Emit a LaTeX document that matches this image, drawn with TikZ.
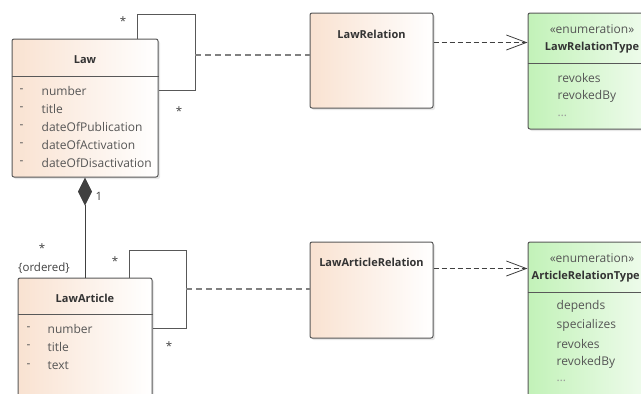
\documentclass[tikz,border=0pt]{standalone}
\usepackage{fontspec}
\setmainfont{Open Sans}
\usetikzlibrary{arrows.meta,shadows}
\definecolor{lawpeach}{RGB}{249,226,209}
\definecolor{lawgreen}{RGB}{194,242,184}
\definecolor{lawline}{RGB}{88,88,88}
\definecolor{lawtext}{RGB}{85,85,85}
\tikzset{
  umlclass/.style={draw=lawline, line width=1pt, rounded corners=2pt,
    left color=lawpeach, right color=white,
    drop shadow={shadow xshift=2pt, shadow yshift=-2pt, opacity=0.18}},
  umlenum/.style={umlclass, left color=lawgreen, right color=lawgreen!20},
  compline/.style={draw=lawline, line width=0.8pt},
  classname/.style={font=\bfseries\fontsize{11}{13}\selectfont, text=black!80, inner sep=0pt},
  attr/.style={font=\fontsize{12}{14}\selectfont, text=lawtext, anchor=west, inner sep=0pt},
  mult/.style={font=\fontsize{11.5}{13}\selectfont, text=black!75, inner sep=0pt},
  loopline/.style={draw=lawline, line width=0.8pt},
  assocdash/.style={draw=black!50, line width=1.2pt, dash pattern=on 6pt off 4pt},
  depend/.style={draw=black!75, line width=0.8pt, dash pattern=on 5pt off 3pt,
    -{Straight Barb[length=20pt,width=15pt]}},
  compose/.style={draw=black!75, line width=0.8pt, {Diamond[length=28pt,width=14pt]}-}
}

\begin{document}
\begin{tikzpicture}[x=1pt,y=-1pt]
\clip (0,0) rectangle (641,394);
\fill[white] (0,0) rectangle (641,394);

% classes
\node[umlclass, minimum width=146pt, minimum height=138pt] (law) at (85,108) {};
\node[umlclass, minimum width=134pt, minimum height=150pt] (art) at (85,353) {};
\node[umlclass, minimum width=123pt, minimum height=95pt] (lawrel) at (371.5,60.5) {};
\node[umlclass, minimum width=123pt, minimum height=96pt] (artrel) at (371.5,290) {};
\node[umlenum, minimum width=128pt, minimum height=116pt] (lawtype) at (592,71) {};
\node[umlenum, minimum width=128pt, minimum height=180pt] (arttype) at (592,332) {};

\draw[compline] ([yshift=-38pt]law.north west) -- ([yshift=-38pt]law.north east);
\draw[compline] ([yshift=-37pt]art.north west) -- ([yshift=-37pt]art.north east);
\draw[compline] ([yshift=-51pt]lawtype.north west) -- ([yshift=-51pt]lawtype.north east);
\draw[compline] ([yshift=-51pt]arttype.north west) -- ([yshift=-51pt]arttype.north east);

% names
\node[classname] (lawname) at ([yshift=-21pt]law.north) {Law};
\node[classname] (artname) at ([yshift=-21pt]art.north) {LawArticle};
\node[classname] (lawrelname) at ([yshift=-22pt]lawrel.north) {LawRelation};
\node[classname] (artrelname) at ([yshift=-21pt]artrel.north) {LawArticleRelation};
\node[attr, anchor=center] (lawtypest) at ([yshift=-17pt]lawtype.north) {«enumeration»};
\node[classname] (lawtypename) at ([yshift=-35pt]lawtype.north) {LawRelationType};
\node[attr, anchor=center] (arttypest) at ([yshift=-17pt]arttype.north) {«enumeration»};
\node[classname, anchor=west] (arttypename) at ([xshift=4pt,yshift=-35pt]arttype.north west) {ArticleRelationType};

% attributes
\foreach \a [count=\i, evaluate=\i as \dy using 52+18*(\i-1)] in
  {number,title,dateOfPublication,dateOfActivation,dateOfDisactivation} {
  \node[attr] (lawdash\i) at ([xshift=8pt,yshift=-\dy pt]law.north west) {-};
  \node[attr] (lawattr\i) at ([xshift=30pt,yshift=-\dy pt]law.north west) {\a};
}
\foreach \a [count=\i, evaluate=\i as \dy using 51+18.5*(\i-1)] in {number,title,text} {
  \node[attr] (artdash\i) at ([xshift=9pt,yshift=-\dy pt]art.north west) {-};
  \node[attr] (artattr\i) at ([xshift=30pt,yshift=-\dy pt]art.north west) {\a};
}
\foreach \a [count=\i, evaluate=\i as \dy using 65+19*(\i-1)] in {revokes,revokedBy}
  \node[attr] (lawlit\i) at ([xshift=30pt,yshift=-\dy pt]lawtype.north west) {\a};
\node[attr, text=black!40] (lawlit3) at ([xshift=30pt,yshift=-103pt]lawtype.north west) {\dots};
\foreach \a [count=\i, evaluate=\i as \dy using 65+18.5*(\i-1)] in
  {depends,specializes,revokes,revokedBy}
  \node[attr] (artlit\i) at ([xshift=29pt,yshift=-\dy pt]arttype.north west) {\a};
\node[attr, text=black!40] (artlit5) at ([xshift=29pt,yshift=-139pt]arttype.north west) {\dots};

% self associations
\coordinate (lawloop) at (195,14);
\coordinate (lawloopmid) at (195,55);
\draw[loopline] ([xshift=-21pt]law.north east) |- (lawloop) |- ([yshift=-52pt]law.north east);
\draw[assocdash] (lawloopmid) -- (lawloopmid -| lawrel.west);
\coordinate (artloop) at (186,250);
\coordinate (artloopmid) at (186,289);
\draw[loopline] ([xshift=-23pt]art.north east) |- (artloop) |- ([yshift=-51pt]art.north east);
\draw[assocdash] (artloopmid) -- (artloopmid -| artrel.west);

% dependencies
\draw[depend] ([yshift=-30pt]lawrel.north east) -- ([yshift=-30pt]lawtype.north west);
\draw[depend] ([yshift=-27pt]artrel.north east) -- ([yshift=-27pt]arttype.north west);

% composition
\draw[compose] (law.south) -- (art.north);

\node[mult] (lawm1) at (123,21) {*};
\node[mult] (lawm2) at (179,111) {*};
\node[mult] (artm1) at (115,261) {*};
\node[mult] (artm2) at (169,346) {*};
\node[mult] (compm1) at (99,196) {1};
\node[mult] (compm2) at (42,248) {*};
\node[mult] (compord) at (44,268) {\{ordered\}};
%\draw[step=10,gray,very thin] (0,0) grid (641,394);
\end{tikzpicture}
\end{document}
